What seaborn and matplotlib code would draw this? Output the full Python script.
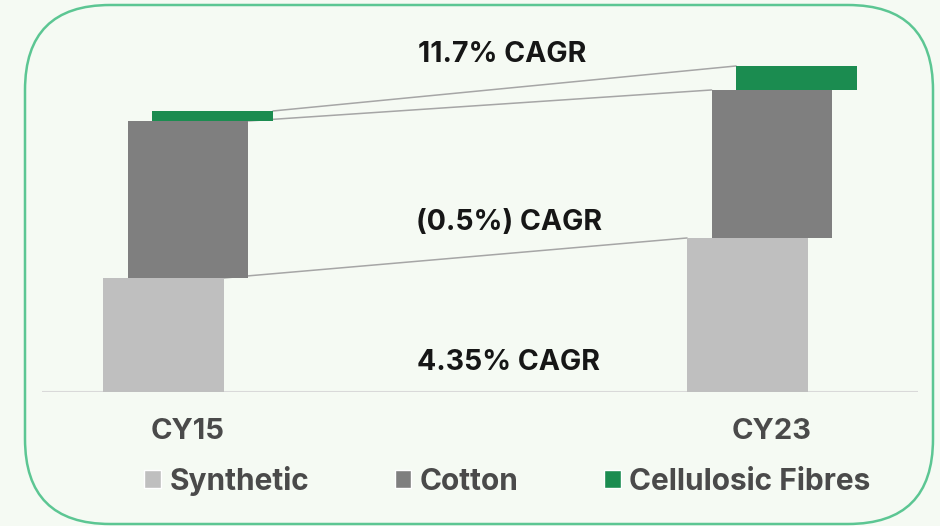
import numpy as np
import pandas as pd
import matplotlib.pyplot as plt
import matplotlib.patches as mpatches
import seaborn as sns

# values (relative volume units)
years = ["CY15", "CY23"]
series = ["Synthetic", "Cotton", "Cellulosic Fibres"]
synthetic = [11.4, 15.4]
cotton = [15.7, 14.8]
cellulosic = [1.0, 2.4]
cagr_labels = ["4.35% CAGR", "(0.5%) CAGR", "11.7% CAGR"]

colors = ["#bfbfbf", "#7f7f7f", "#1b8c50"]
text_dark = "#161616"
text_grey = "#4a4a4a"

sns.set_style("white")
plt.rcParams["font.family"] = ["Inter", "DejaVu Sans"]

fig = plt.figure(figsize=(9.4, 5.26), dpi=100, facecolor="#f5faf3")
ax = fig.add_axes([0.0447, 0.2548, 0.9319, 0.6502])
ax.set_facecolor("none")

values = [synthetic, cotton, cellulosic]
shift = 0.042
width = 0.207
pos = np.arange(len(years))
bottom = np.zeros(len(years))
for i, (name, vals) in enumerate(zip(series, values)):
    off = (i - 1) * shift
    df = pd.DataFrame({"x": pos + off, "y": vals})
    sns.barplot(data=df, x="x", y="y", native_scale=True, width=width,
                bottom=bottom, color=colors[i], saturation=1, linewidth=0,
                ax=ax, zorder=3)
    top = bottom + np.array(vals)
    # connector from top-right of CY15 segment to top-left of CY23 segment
    ax.plot([pos[0] + off + width / 2, pos[1] + off - width / 2],
            [top[0], top[1]], color="#a6a6a6", lw=1.1, zorder=2)
    bottom = top

# CAGR labels
label_pos = [(0.549, 2.2), (0.5505, 16.2), (0.5385, 33.0)]
for txt, (lx, ly) in zip(cagr_labels, label_pos):
    ax.text(lx, ly, txt, ha="center", va="baseline", fontsize=20.5,
            fontweight="bold", color=text_dark, clip_on=False, zorder=5)

ax.axhline(0, color="#d9d9d9", lw=1.5, zorder=1)
ax.set_xlim(-0.25, 1.25)
ax.set_ylim(0, 34.2)
ax.set_xticks(pos)
ax.set_xticklabels(years, fontsize=21, fontweight="bold", color=text_grey)
ax.tick_params(axis="x", length=0, pad=19)
ax.set_yticks([])
ax.set_xlabel("")
ax.set_ylabel("")
sns.despine(ax=ax, left=True, bottom=True)

handles = [mpatches.Patch(facecolor=c, label=s) for c, s in zip(colors, series)]
fig.legend(handles=handles, loc="center", bbox_to_anchor=(0.540, 0.0856),
           ncol=3, frameon=False, prop={"size": 21.5, "weight": "bold"},
           handlelength=0.55, handleheight=0.55, handletextpad=0.3,
           columnspacing=2.85, labelcolor=text_grey)

border = mpatches.FancyBboxPatch((0.25, 0.02), 9.08, 5.19,
                                 boxstyle="round,pad=0,rounding_size=0.85",
                                 transform=fig.dpi_scale_trans, fill=False,
                                 edgecolor="#5cc693", lw=1.8)
fig.add_artist(border)

fig.savefig("out.png", dpi=100, facecolor=fig.get_facecolor())
